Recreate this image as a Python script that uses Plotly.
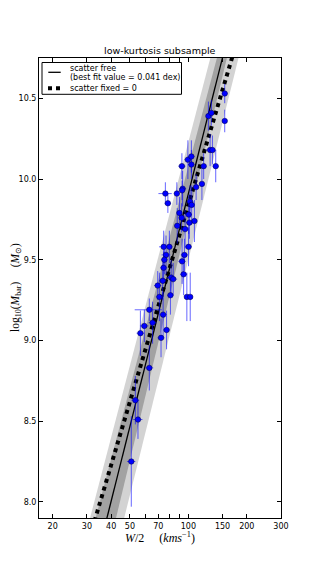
import numpy as np
import plotly.graph_objects as go

# ---- data ----
W = [153.9, 153.9, 126.8, 131.4, 129.4, 133.0, 138.3, 119.9, 92.6, 99.4,
     103.6, 103.6, 93.4, 109.6, 117.4, 76.1, 87.2, 92.8, 78.4, 102.0,
     104.0, 89.9, 100.4, 92.3, 107.4, 87.6, 96.2, 74.6, 79.8, 100.2,
     76.7, 95.4, 75.2, 92.8, 74.5, 94.5, 73.7, 81.5, 83.5, 69.5,
     70.9, 80.8, 98.2, 102.2, 62.9, 74.1, 59.3, 65.4, 56.6, 77.2,
     72.3, 62.9, 53.3, 55.0, 50.8, 101.2]
M = [10.53, 10.36, 10.39, 10.41, 10.18, 10.18, 10.08, 10.08, 10.08, 10.12,
     10.14, 10.09, 9.94, 9.95, 9.97, 9.91, 9.91, 9.93, 9.85, 9.86,
     9.84, 9.79, 9.78, 9.76, 9.74, 9.71, 9.69, 9.58, 9.58, 9.58,
     9.53, 9.53, 9.50, 9.49, 9.45, 9.41, 9.37, 9.39, 9.38, 9.34,
     9.27, 9.28, 9.27, 9.27, 9.19, 9.16, 9.09, 9.11, 9.045, 9.065,
     9.016, 8.83, 8.63, 8.51, 8.25, 9.73]
W_err = [5, 5, 4, 4, 7, 6, 5, 4, 4, 4,
         4, 4, 4, 4, 4, 6, 3, 3, 3, 4,
         4, 3, 4, 3, 4, 3, 4, 4, 3, 4,
         4, 4, 3, 4, 3, 4, 3, 4, 4, 3,
         3, 3, 3, 3, 10, 3, 3, 3, 2.5, 3,
         3, 3, 2.5, 3, 2.5, 4]
M_err = [0.06, 0.07, 0.09, 0.08, 0.10, 0.09, 0.10, 0.08, 0.08, 0.12,
         0.10, 0.09, 0.11, 0.08, 0.10, 0.07, 0.07, 0.06, 0.06, 0.10,
         0.12, 0.10, 0.12, 0.09, 0.13, 0.11, 0.12, 0.10, 0.10, 0.12,
         0.12, 0.10, 0.09, 0.14, 0.10, 0.13, 0.12, 0.11, 0.10, 0.09,
         0.15, 0.12, 0.15, 0.15, 0.07, 0.14, 0.10, 0.13, 0.14, 0.12,
         0.12, 0.14, 0.15, 0.12, 0.28, 0.10]

# fits: M = a + b * (log10 W - 2)
fit_free = (9.91, 4.79)
fit_fixed = (9.84, 4.05)
band_outer = ((10.23, 4.60), (9.50, 4.84))   # upper edge, lower edge
band_inner = ((10.08, 4.56), (9.76, 4.99))

x_tickvals = [20, 30, 40, 50, 70, 100, 150, 200, 300]
x_ticktext = ["20", "30", "40", "50", "70", "100", "150", "200", "300"]
x_minor_ticks = [60, 80, 90]
y_tickvals = [8.0, 8.5, 9.0, 9.5, 10.0, 10.5]
y_ticktext = ["8.0", "8.5", "9.0", "9.5", "10.0", "10.5"]
x_range = [17, 300]
y_range = [7.9, 10.75]

title_text = "low-kurtosis subsample"
legend_free = ["scatter free", "(best fit value = 0.041 dex)"]
legend_fixed = "scatter fixed = 0"

# ---- build figure ----
W_line = np.array([10.0, 400.0])
lw = np.log10(W_line) - 2


def line(p):
    return p[0] + p[1] * lw


fig = go.Figure()


def band(edges, color):
    up, lo = line(edges[0]), line(edges[1])
    fig.add_trace(go.Scatter(
        x=np.concatenate([W_line, W_line[::-1]]),
        y=np.concatenate([up, lo[::-1]]),
        fill="toself", fillcolor=color, line=dict(width=0),
        mode="lines", hoverinfo="skip", showlegend=False))


band(band_outer, "#d3d3d3")
band(band_inner, "#a2a2a2")

fig.add_trace(go.Scatter(x=W_line, y=line(fit_fixed), mode="lines",
                         line=dict(color="black", width=4, dash="dot"),
                         showlegend=False))
fig.add_trace(go.Scatter(x=W_line, y=line(fit_free), mode="lines",
                         line=dict(color="black", width=1.3),
                         showlegend=False))

fig.add_trace(go.Scatter(
    x=W, y=M, mode="markers",
    marker=dict(color="#0000ff", size=5.5, line=dict(color="#000040", width=0.5)),
    error_x=dict(type="data", array=W_err, color="rgba(0,0,255,0.6)",
                 thickness=1, width=0),
    error_y=dict(type="data", array=M_err, color="rgba(0,0,255,0.6)",
                 thickness=1, width=0),
    showlegend=False))

font = "DejaVu Sans"
axis_common = dict(showgrid=False, zeroline=False, showline=True, automargin=False,
                   linecolor="black", linewidth=1, mirror="ticks",
                   ticks="inside", ticklen=4, tickcolor="black", tickwidth=1,
                   tickfont=dict(family=font, size=8, color="black"))

# the page adds an 8px body margin; the plot area is placed to compensate
OFF = 8.0
PW, PH = 242.0, 460.0
L, T = 39.0 - OFF, 58.0 - OFF

fig.update_layout(
    template="none",
    width=312, height=576,
    margin=dict(l=L, r=312 - L - PW, t=T, b=576 - T - PH, pad=0),
    paper_bgcolor="white", plot_bgcolor="white",
    showlegend=False,
    xaxis=dict(type="log", range=[np.log10(x_range[0]), np.log10(x_range[1])],
               tickmode="array", tickvals=x_tickvals, ticktext=x_ticktext,
               minor=dict(tickmode="array", tickvals=x_minor_ticks, ticks="inside",
                          ticklen=4, tickcolor="black", tickwidth=1, showgrid=False),
               **axis_common),
    yaxis=dict(range=y_range, tickmode="array", tickvals=y_tickvals,
               ticktext=y_ticktext, **axis_common),
)


# helpers take reference-picture pixel positions
def px(xp):
    return (xp - OFF - L) / PW


def py(yp):
    return (T + PH - (yp - OFF)) / PH


ann = []
ann.append(dict(text=title_text, x=0.5, y=py(51), xref="paper", yref="paper",
                xanchor="center", yanchor="middle", showarrow=False,
                font=dict(family=font, size=9.5, color="black")))
ann.append(dict(text="<i>W</i>/2&nbsp;&nbsp;&nbsp;&nbsp;&nbsp;(<i>kms</i><sup>−1</sup>)",
                x=0.5, y=py(537), xref="paper", yref="paper",
                xanchor="center", yanchor="middle", showarrow=False,
                font=dict(family="Liberation Serif", size=12, color="black")))
ann.append(dict(text="log<sub>10</sub>(<i>M</i><sub>bar</sub>)&nbsp;&nbsp;&nbsp;&nbsp;&nbsp;(<i>M</i><sub>⊙</sub>)",
                x=px(16), y=0.5, xref="paper", yref="paper", textangle=-90,
                xanchor="center", yanchor="middle", showarrow=False,
                font=dict(family="Liberation Serif", size=11.5, color="black")))
# legend texts
lf = dict(family=font, size=8, color="black")
ann.append(dict(text=legend_free[0], x=px(67.5), y=py(68.3), xref="paper", yref="paper",
                xanchor="left", yanchor="middle", showarrow=False, font=lf))
ann.append(dict(text=legend_free[1], x=px(67.5), y=py(77.3), xref="paper", yref="paper",
                xanchor="left", yanchor="middle", showarrow=False, font=lf))
ann.append(dict(text=legend_fixed, x=px(67.5), y=py(88.3), xref="paper", yref="paper",
                xanchor="left", yanchor="middle", showarrow=False, font=lf))
fig.update_layout(annotations=ann)

shapes = [
    dict(type="rect", xref="paper", yref="paper", x0=px(42), x1=px(181.5),
         y0=py(94.3), y1=py(62.5), line=dict(color="black", width=1),
         fillcolor="white", layer="above"),
    dict(type="line", xref="paper", yref="paper", x0=px(48.3), x1=px(60.7),
         y0=py(72.3), y1=py(72.3), line=dict(color="black", width=1.3)),
    dict(type="line", xref="paper", yref="paper", x0=px(48), x1=px(60),
         y0=py(88.3), y1=py(88.3), line=dict(color="black", width=4, dash="dot")),
]
fig.update_layout(shapes=shapes)

fig.write_html("out.html")
